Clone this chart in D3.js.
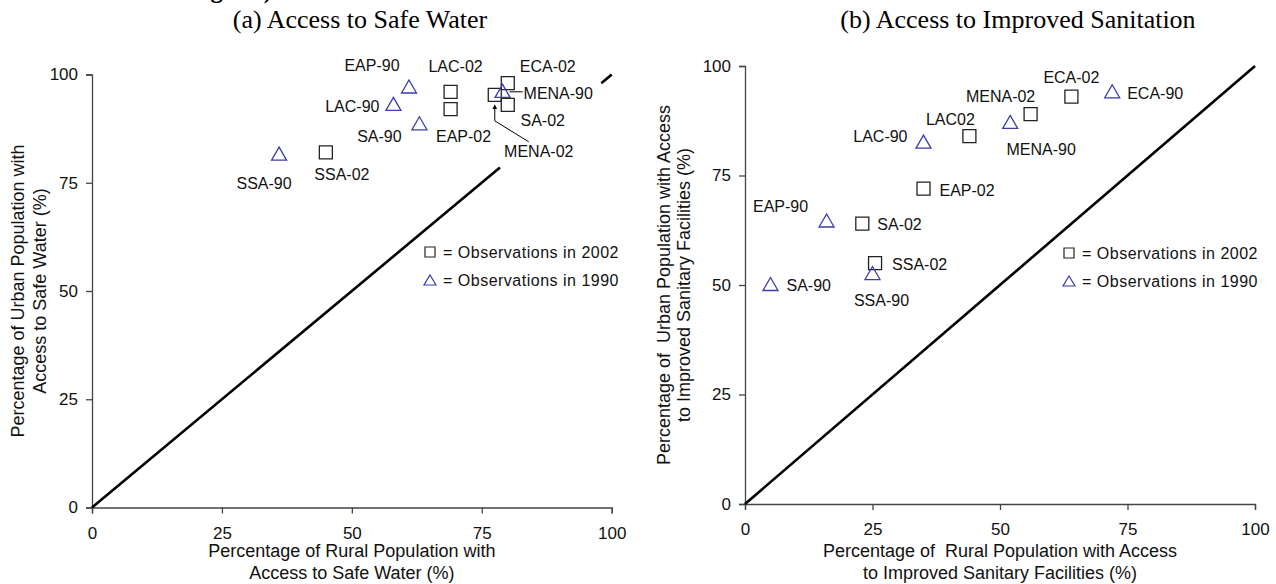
<!DOCTYPE html>
<html>
  <head>
    <meta charset="utf-8" />
    <script src="https://d3js.org/d3.v7.min.js"></script>
    <style>
      body {
        margin: 0px;
        background: #fff;
        font-family: 'Liberation Sans', Arial, sans-serif;
      }
      svg text {
        white-space: pre;
      }
      .tick text {
        font-size: 17px;
        fill: #111;
      }
      .axis path,
      .tick line {
        stroke: #444;
        stroke-width: 1.3;
      }
      .axis-label {
        font-size: 18px;
        fill: #111;
        text-anchor: middle;
      }
      .pt-label {
        font-size: 16px;
        fill: #111;
      }
      .legend text {
        font-size: 16px;
        fill: #111;
        letter-spacing: 0.5px;
      }
      .title {
        font-family: 'Liberation Serif', 'Times New Roman', serif;
        font-size: 26px;
        fill: #000;
        text-anchor: middle;
      }
    </style>
  </head>
  <body>
    <script>
      // (a) safe water: rural % vs urban %
      const waterNames = ['SSA-90', 'SSA-02', 'LAC-90', 'EAP-90', 'SA-90', 'LAC-02',
        'EAP-02', 'ECA-02', 'MENA-02', 'SA-02', 'MENA-90'];
      const waterRural = [36, 45, 58, 61, 63, 69, 69, 80, 77.5, 80, 79];
      const waterUrban = [81.5, 82, 93, 97, 88.5, 96, 92, 98, 95.3, 93, 96];
      const waterYear = [1990, 2002, 1990, 1990, 1990, 2002, 2002, 2002, 2002, 2002, 1990];

      // (b) improved sanitation
      const sanNames = ['ECA-02', 'ECA-90', 'MENA-02', 'MENA-90', 'LAC02', 'LAC-90',
        'EAP-02', 'EAP-90', 'SA-02', 'SSA-02', 'SSA-90', 'SA-90'];
      const sanRural = [64, 72, 56, 52, 44, 35, 35, 16, 23, 25.5, 25, 5];
      const sanUrban = [93, 94, 89, 87, 84, 82.5, 72, 64.5, 64, 55, 52.5, 50];
      const sanYear = [2002, 1990, 2002, 1990, 2002, 1990, 2002, 1990, 2002, 2002, 1990, 1990];

      const ticks = [0, 25, 50, 75, 100];
      // 45 degree line; in (a) it is hidden behind the label cluster
      const waterDiag = [[[0, 0], [78.5, 78.5]], [[98, 98], [100, 100]]];
      const sanDiag = [[[0, 0], [100, 100]]];

      // label placement (pixel offsets from marker, anchor)
      const waterLabelPos = [
        [-15, 34, 'middle'], [16, 28, 'middle'], [-14, 7, 'end'], [-37, -16, 'middle'],
        [-40, 18, 'middle'], [5, -20, 'middle'], [13, 33, 'middle'], [40, -11, 'middle'],
        [44, 62, 'middle'], [35, 21, 'middle'], [21, 7, 'start'],
      ];
      const sanLabelPos = [
        [0, -14, 'middle'], [15, 7, 'start'], [-30, -12, 'middle'], [31, 32, 'middle'],
        [-19, -11, 'middle'], [-16, -1, 'end'], [16, 7, 'start'], [-46, -9, 'middle'],
        [15, 6, 'start'], [17, 7, 'start'], [9, 32, 'middle'], [16, 6, 'start'],
      ];

      const svg = d3.select('body').append('svg')
        .attr('width', 1276).attr('height', 584);

      svg.append('defs').append('marker')
        .attr('id', 'arrow')
        .attr('viewBox', '0 0 6 6')
        .attr('refX', 3).attr('refY', 3)
        .attr('markerWidth', 5).attr('markerHeight', 6)
        .attr('orient', 'auto')
        .append('path')
        .attr('d', 'M0,0L6,3L0,6Z')
        .attr('fill', '#000');

      // heading of the page above, cut off at the top edge
      svg.append('text')
        .attr('x', 223).attr('y', -2)
        .attr('text-anchor', 'end')
        .style('font-family', "'Liberation Serif', serif")
        .style('font-weight', 'bold')
        .style('font-size', '25px')
        .text('Ranking');
      svg.append('text')
        .attr('x', 272).attr('y', -2)
        .attr('text-anchor', 'end')
        .style('font-family', "'Liberation Serif', serif")
        .style('font-weight', 'bold')
        .style('font-size', '25px')
        .text('14)');

      const triangle = 'M0,-7.5L7.5,5.5L-7.5,5.5Z';
      const square = 'M-6.5,-6.5H6.5V6.5H-6.5Z';

      const panel = (opts) => {
        const { xr, yr, names, xs, ys, years, diag, labelPos, title, titleX,
          xTitle, yTitle, yTitleX, legendX, legendY } = opts;
        const x = d3.scaleLinear().domain([0, 100]).range(xr);
        const y = d3.scaleLinear().domain([0, 100]).range(yr);
        const g = svg.append('g');

        g.append('text').attr('class', 'title')
          .attr('x', titleX).attr('y', 28).text(title);

        g.append('g').attr('class', 'axis')
          .attr('transform', `translate(0,${yr[0]})`)
          .call(d3.axisBottom(x).tickValues(ticks).tickSize(6).tickSizeOuter(6).tickPadding(13));
        g.append('g').attr('class', 'axis')
          .attr('transform', `translate(${xr[0]},0)`)
          .call(d3.axisLeft(y).tickValues(ticks).tickSize(6).tickSizeOuter(6).tickPadding(8));

        const cx = (xr[0] + xr[1]) / 2;
        const cy = (yr[0] + yr[1]) / 2;
        xTitle.forEach((t, i) => {
          g.append('text').attr('class', 'axis-label')
            .attr('x', cx).attr('y', 557 + i * 22).text(t);
        });
        yTitle.forEach((t, i) => {
          g.append('text').attr('class', 'axis-label')
            .attr('transform', `translate(${yTitleX[i]},${cy}) rotate(-90)`)
            .text(t);
        });

        const line = d3.line().x((d) => x(d[0])).y((d) => y(d[1]));
        g.selectAll('.diag').data(diag).join('path')
          .attr('class', 'diag')
          .attr('d', line)
          .attr('fill', 'none')
          .attr('stroke', '#000')
          .attr('stroke-width', 2.6);

        const pts = names.map((n, i) => ({ name: n, x: xs[i], y: ys[i], year: years[i], pos: labelPos[i] }));

        g.selectAll('.mark').data(pts).join('path')
          .attr('class', 'mark')
          .attr('transform', (d) => `translate(${x(d.x)},${y(d.y)})`)
          .attr('d', (d) => (d.year === 2002 ? square : triangle))
          .attr('fill', 'none')
          .attr('stroke', (d) => (d.year === 2002 ? '#222' : '#3c3caa'))
          .attr('stroke-width', 1.3);

        g.selectAll('.pt-label').data(pts).join('text')
          .attr('class', 'pt-label')
          .attr('x', (d) => x(d.x) + d.pos[0])
          .attr('y', (d) => y(d.y) + d.pos[1])
          .attr('text-anchor', (d) => d.pos[2])
          .text((d) => d.name);

        const lg = g.append('g').attr('class', 'legend')
          .attr('transform', `translate(${legendX},${legendY})`);
        lg.append('path').attr('d', 'M-5,-5H5V5H-5Z')
          .attr('fill', 'none').attr('stroke', '#222').attr('stroke-width', 1.2);
        lg.append('text').attr('x', 13).attr('y', 6).text('= Observations in 2002');
        lg.append('path').attr('d', 'M0,23L6,33L-6,33Z')
          .attr('fill', 'none').attr('stroke', '#3c3caa').attr('stroke-width', 1.2);
        lg.append('text').attr('x', 13).attr('y', 34).text('= Observations in 1990');

        return { g, x, y, pts };
      };

      const a = panel({
        xr: [92, 611.7], yr: [507.5, 74.5],
        names: waterNames, xs: waterRural, ys: waterUrban, years: waterYear,
        diag: waterDiag, labelPos: waterLabelPos,
        title: '(a) Access to Safe Water', titleX: 360,
        xTitle: ['Percentage of Rural Population with', 'Access to Safe Water (%)'],
        yTitle: ['Percentage of Urban Population with', 'Access to Safe Water (%)'],
        yTitleX: [24, 46],
        legendX: 430, legendY: 252,
      });

      // leader lines in panel (a)
      const mena90 = a.pts.find((d) => d.name === 'MENA-90');
      a.g.append('line')
        .attr('x1', a.x(mena90.x) + 7).attr('y1', a.y(mena90.y))
        .attr('x2', a.x(mena90.x) + 20).attr('y2', a.y(mena90.y))
        .attr('stroke', '#000').attr('stroke-width', 1);
      const mena02 = a.pts.find((d) => d.name === 'MENA-02');
      const mx = a.x(mena02.x);
      const my = a.y(mena02.y);
      a.g.append('path')
        .attr('d', `M${mx + 34},${my + 47}L${mx},${my + 26}L${mx},${my + 12}`)
        .attr('fill', 'none')
        .attr('stroke', '#000')
        .attr('stroke-width', 1)
        .attr('marker-end', 'url(#arrow)');

      panel({
        xr: [745, 1255], yr: [504, 66],
        names: sanNames, xs: sanRural, ys: sanUrban, years: sanYear,
        diag: sanDiag, labelPos: sanLabelPos,
        title: '(b) Access to Improved Sanitation', titleX: 1018,
        xTitle: ['Percentage of  Rural Population with Access', 'to Improved Sanitary Facilities (%)'],
        yTitle: ['Percentage of  Urban Population with Access', 'to Improved Sanitary Facilities (%)'],
        yTitleX: [670, 690],
        legendX: 1069, legendY: 253,
      });
    </script>
  </body>
</html>
